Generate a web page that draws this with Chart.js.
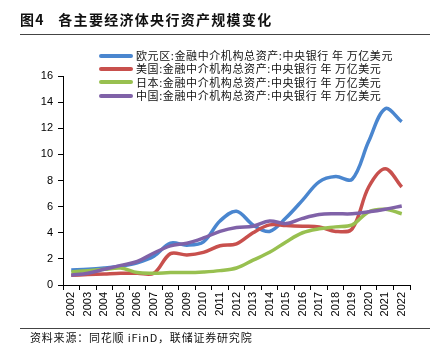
<!DOCTYPE html>
<html>
<head>
<meta charset="utf-8">
<script src="https://cdn.jsdelivr.net/npm/chart.js@4.4.0/dist/chart.umd.min.js"></script>
<style>
  body { margin: 0; background: #fff; }
  #wrap { position: relative; width: 441px; height: 354px; overflow: hidden; }
  #wrap canvas { position: absolute; left: 0; top: 0; }
  .title {
    position: absolute; left: 20px; top: 9px; letter-spacing: 1.3px;
    font: bold 14px "Noto Sans CJK SC", sans-serif; color: #111; white-space: nowrap;
  }
  .rule { position: absolute; left: 20px; width: 410px; height: 0; border-top: 1.5px solid #444; }
  .source {
    position: absolute; left: 30px; top: 329px; letter-spacing: 0.8px;
    font: 11px "Noto Sans CJK SC", sans-serif; color: #111; white-space: nowrap;
  }
  #legend { position: absolute; left: 99px; top: 49px; }
  .lg-row { height: 13.3px; display: flex; align-items: center; white-space: nowrap; }
  .lg-line { width: 34px; height: 4px; border-radius: 2px; margin-right: 3px; }
  .lg-text { font: 11px "Noto Sans CJK SC", sans-serif; color: #111; line-height: 13px; letter-spacing: 0.6px; }
</style>
</head>
<body>
<div id="wrap">
  <canvas id="chart" width="441" height="354"></canvas>
  <div class="title">图4&nbsp;&nbsp;&nbsp;各主要经济体央行资产规模变化</div>
  <div class="rule" style="top:34px"></div>
  <div id="legend"></div>
  <div class="rule" style="top:328px"></div>
  <div class="source">资料来源：同花顺 iFinD，联储证券研究院</div>
</div>
<script>
// years on the x axis
const years = ["2002", "2003", "2004", "2005", "2006", "2007", "2008", "2009", "2010", "2011",
  "2012", "2013", "2014", "2015", "2016", "2017", "2018", "2019", "2020", "2021", "2022"];

// series names (legend)
const seriesNames = [
  "欧元区:金融中介机构总资产:中央银行 年 万亿美元",
  "美国:金融中介机构总资产:中央银行 年 万亿美元",
  "日本:金融中介机构总资产:中央银行 年 万亿美元",
  "中国:金融中介机构总资产:中央银行 年 万亿美元",
];

// values, trillion USD
const euroArea = [1.15, 1.2, 1.3, 1.45, 1.7, 2.2, 3.2, 3.05, 3.3, 4.9, 5.65, 4.6, 4.1, 5.15, 6.5, 7.9, 8.3, 8.1, 11.0, 13.5, 12.5];
const usa = [0.75, 0.8, 0.85, 0.9, 0.9, 0.9, 2.4, 2.3, 2.5, 3.0, 3.15, 4.0, 4.6, 4.55, 4.5, 4.45, 4.1, 4.3, 7.5, 8.9, 7.5];
const japan = [1.0, 1.1, 1.2, 1.3, 0.95, 0.9, 0.95, 0.95, 1.0, 1.1, 1.3, 1.9, 2.5, 3.3, 4.0, 4.3, 4.45, 4.6, 5.6, 5.8, 5.45];
const china = [0.75, 0.9, 1.2, 1.5, 1.8, 2.45, 3.0, 3.2, 3.6, 4.1, 4.4, 4.5, 4.9, 4.7, 5.1, 5.4, 5.45, 5.45, 5.6, 5.8, 6.05];

const colors = ["#4a86cf", "#c8504d", "#98c050", "#8062a8"];
const allSeries = [euroArea, usa, japan, china];

// y axis
const yMin = 0;
const yMax = 16;
const yStep = 2;

// html legend
const legendBox = document.getElementById("legend");
seriesNames.forEach((name, i) => {
  const row = document.createElement("div");
  row.className = "lg-row";
  row.innerHTML = '<span class="lg-line" style="background:' + colors[i] + '"></span>' +
    '<span class="lg-text">' + name + "</span>";
  legendBox.appendChild(row);
});

const axisFont = { family: "'Liberation Sans', Arial, sans-serif", size: 11 };

new Chart(document.getElementById("chart"), {
  type: "line",
  data: {
    labels: years,
    datasets: allSeries.map((values, i) => ({
      label: seriesNames[i],
      data: values,
      borderColor: colors[i],
      backgroundColor: colors[i],
      borderWidth: 3.5,
      pointRadius: 0,
      tension: 0.35,
      order: 3 - i, // purple drawn on top
    })),
  },
  options: {
    responsive: false,
    animation: false,
    layout: { padding: { top: 76, right: 31, bottom: 34, left: 0 } },
    plugins: { legend: { display: false }, tooltip: { enabled: false } },
    scales: {
      x: {
        offset: true,
        grid: { display: true, drawOnChartArea: false, offset: true, tickLength: 5, color: "#000" },
        border: { display: true, color: "#000", width: 1 },
        ticks: {
          autoSkip: false, minRotation: 90, maxRotation: 90,
          color: "#000", font: axisFont, padding: 2,
        },
        afterFit: (scale) => { scale.height = 35; },
      },
      y: {
        min: yMin,
        max: yMax,
        grid: { display: true, drawOnChartArea: false, tickLength: 5, color: "#000" },
        border: { display: true, color: "#000", width: 1 },
        ticks: { stepSize: yStep, color: "#000", font: axisFont, padding: 5 },
        afterFit: (scale) => { scale.width = 63; },
      },
    },
  },
});
</script>
</body>
</html>
